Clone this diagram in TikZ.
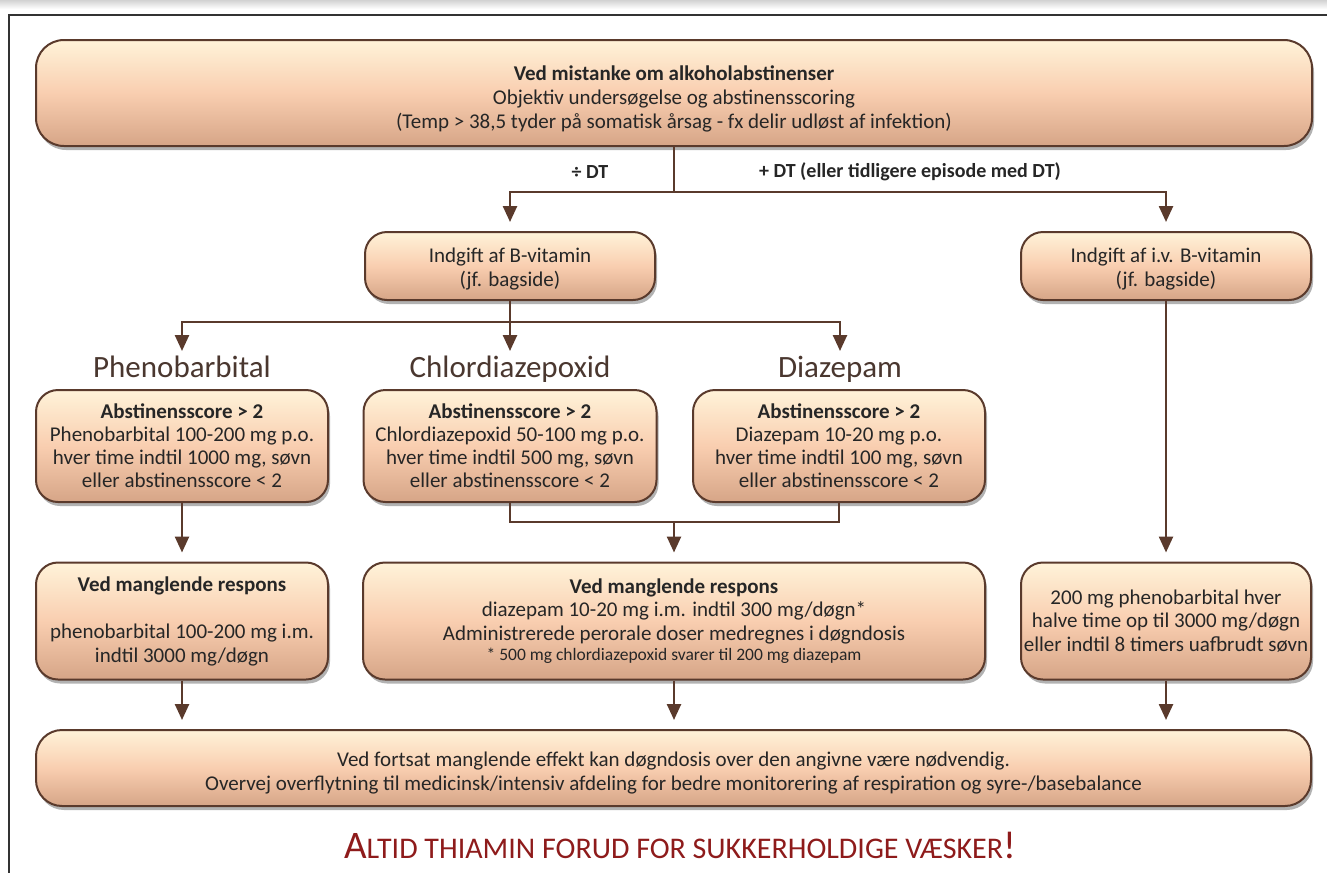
\documentclass[tikz,border=0pt]{standalone}
\usepackage{fontspec}
\setmainfont{Carlito}
\usetikzlibrary{%
	arrows.meta,%
	calc,%
	shadows
}

\definecolor{boxline}{HTML}{5A3A2C}
\definecolor{boxtop}{HTML}{FFF3D9}
\definecolor{boxmid}{HTML}{F9CEB0}
\definecolor{boxbot}{HTML}{D6A587}
\definecolor{boxtext}{HTML}{262626}
\definecolor{headtext}{HTML}{4A372F}
\definecolor{warnred}{HTML}{8E1B1B}
\definecolor{framegray}{HTML}{333333}

% strut that pushes the text block of a box a little down
\newcommand{\lowerby}[1]{\rule{0pt}{#1}}

\tikzset{
	flowbox/.style={draw=boxline, line width=2pt, rounded corners=22pt,
		top color=boxtop, bottom color=boxbot, middle color=boxmid,
		align=center, inner sep=0pt, text=boxtext,
		font=\fontsize{21}{23.5}\selectfont,
		drop shadow={shadow xshift=2pt, shadow yshift=-4pt, opacity=0.3, fill=black}},
	drugname/.style={font=\fontsize{31}{35}\selectfont, text=headtext, inner sep=0pt, anchor=north},
	branchlabel/.style={font=\fontsize{20}{22}\selectfont\bfseries, text=boxtext},
	joint/.style={draw=boxline, line width=2.5pt},
	flow/.style={joint, -{Triangle[width=14pt,length=16pt]}, shorten >=9pt},
}

\begin{document}
\begin{tikzpicture}[x=1pt, y=-1pt]
			\useasboundingbox (0,0) rectangle (1327,873);
			
			% Page frame
			\shade[top color=gray!35, bottom color=white] (0,0) rectangle (1327,9);
			\draw[framegray, line width=2pt] (8,15) -- (1327,15);
			\draw[framegray, line width=2pt] (9,15) -- (9,873);
			
			% Boxes
			\node[flowbox, minimum width=1276pt, minimum height=106pt, rounded corners=28pt,
				font=\fontsize{21}{24}\selectfont] (alarm) at (674,93)
				{\lowerby{27pt}\textbf{Ved mistanke om alkoholabstinenser}\\
				 Objektiv undersøgelse og abstinensscoring\\
				 (Temp > 38,5 tyder på somatisk årsag - fx delir udløst af infektion)};
			\node[flowbox, minimum width=290pt, minimum height=68pt] (bvit) at (510,266)
				{\lowerby{21pt}Indgift af B-vitamin\\(jf. bagside)};
			\node[flowbox, minimum width=290pt, minimum height=68pt] (ivbvit) at (1166,266)
				{\lowerby{21pt}Indgift af i.v. B-vitamin\\(jf. bagside)};
			
			\node[drugname] (phenoname) at (182,356) {Phenobarbital};
			\node[drugname] (chlorname) at (510,356) {Chlordiazepoxid};
			\node[drugname] (diazname) at (840,356) {Diazepam};
			
			\node[flowbox, minimum width=292pt, minimum height=112pt, font=\fontsize{21}{23}\selectfont] (pheno) at (182,446)
				{\textbf{Abstinensscore > 2}\\Phenobarbital 100-200 mg p.o.\\hver time indtil 1000 mg, søvn\\eller abstinensscore < 2};
			\node[flowbox, minimum width=293pt, minimum height=112pt, font=\fontsize{21}{23}\selectfont] (chlor) at (510,446)
				{\textbf{Abstinensscore > 2}\\Chlordiazepoxid 50-100 mg p.o.\\hver time indtil 500 mg, søvn\\eller abstinensscore < 2};
			\node[flowbox, minimum width=292pt, minimum height=112pt, font=\fontsize{21}{23}\selectfont] (diaz) at (839,446)
				{\textbf{Abstinensscore > 2}\\Diazepam 10-20 mg p.o.\\hver time indtil 100 mg, søvn\\eller abstinensscore < 2};
			
			\node[flowbox, minimum width=292pt, minimum height=117pt] (phenoresp) at (182,621)
				{\textbf{Ved manglende respons}\\[24pt]phenobarbital 100-200 mg i.m.\\indtil 3000 mg/døgn};
			\node[flowbox, minimum width=622pt, minimum height=117pt] (midresp) at (674,621)
				{\textbf{Ved manglende respons}\\diazepam 10-20 mg i.m. indtil 300 mg/døgn*\\Administrerede perorale doser medregnes i døgndosis\\[-3pt]
				 {\fontsize{17.5}{19}\selectfont * 500 mg chlordiazepoxid svarer til 200 mg diazepam}};
			\node[flowbox, minimum width=290pt, minimum height=117pt] (ivresp) at (1166,621)
				{200 mg phenobarbital hver\\halve time op til 3000 mg/døgn\\eller indtil 8 timers uafbrudt søvn};
			
			\node[flowbox, minimum width=1275pt, minimum height=76pt, rounded corners=26pt] (final) at (673.5,768)
				{\lowerby{25pt}Ved fortsat manglende effekt kan døgndosis over den angivne være nødvendig.\\
				 Overvej overflytning til medicinsk/intensiv afdeling for bedre monitorering af respiration og syre-/basebalance};
			
			% Branch labels
			\node[branchlabel] (minusdt) at (590,172) {÷ DT};
			\node[branchlabel] (plusdt) at (910,172) {+ DT (eller tidligere episode med DT)};
			
			% Connectors
			\coordinate (split) at (674,192);
			\draw[joint] (alarm.south) -- (split);
			\draw[flow] (split) -| (bvit.north);
			\draw[flow] (split) -| (ivbvit.north);
			
			\coordinate (fork) at (510,322);
			\draw[joint] (bvit.south) -- (fork);
			\foreach \drug in {phenoname,chlorname,diazname} {
				\draw[flow, shorten >=5pt] (fork) -| (\drug.north);
			}
			
			\draw[flow] (pheno.south) -- (phenoresp.north);
			\coordinate (merge) at (674,522);
			\draw[joint] (chlor.south) |- (merge);
			\draw[joint] (diaz.south) |- (merge);
			\draw[flow] (merge) -- (midresp.north);
			\draw[flow] (ivbvit.south) -- (ivresp.north);
			
			\foreach \resp in {phenoresp,midresp,ivresp} {
				\draw[flow] (\resp.south) -- (\resp.south |- final.north);
			}
			
			% Warning line
			\node[text=warnred] (warning) at (680,845)
				{{\fontsize{39}{42}\selectfont A}{\fontsize{30}{42}\selectfont LTID THIAMIN FORUD FOR SUKKERHOLDIGE VÆSKER}{\fontsize{39}{42}\selectfont !}};
		\end{tikzpicture}
\end{document}
